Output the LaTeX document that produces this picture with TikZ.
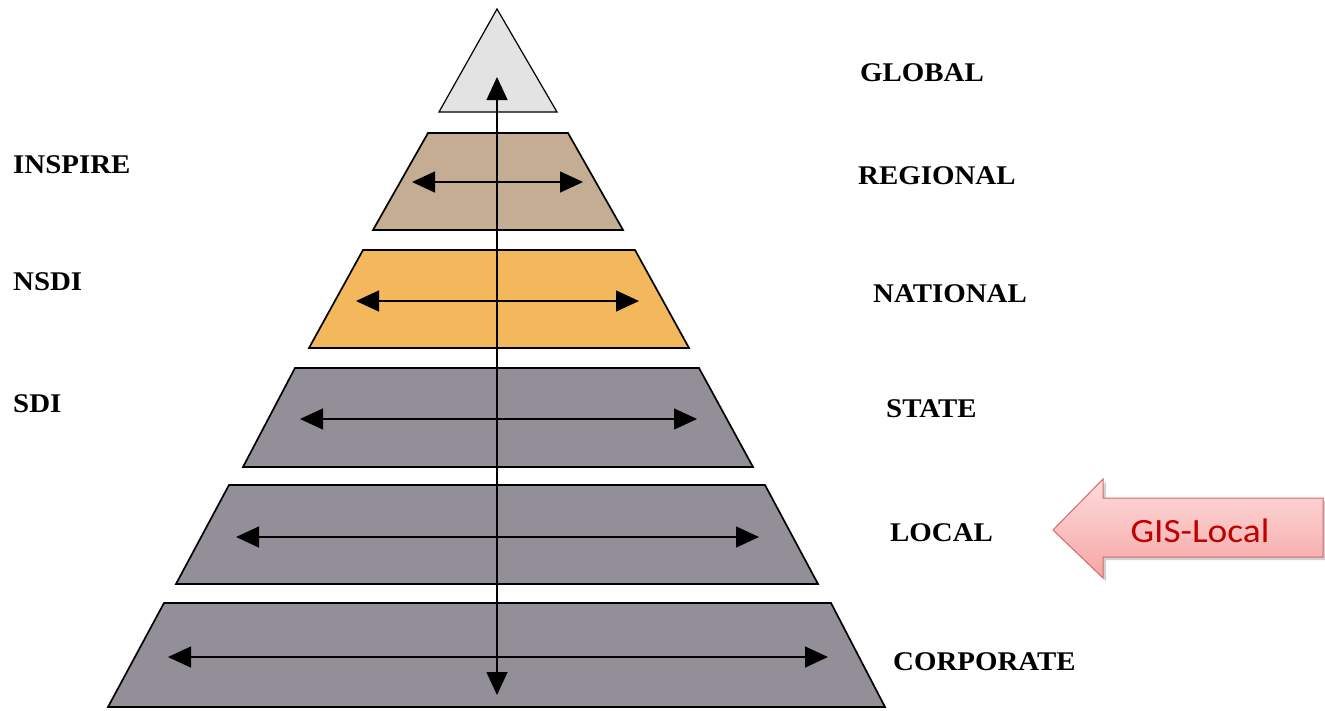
\documentclass[tikz,border=0pt]{standalone}
\usepackage{fontspec}
\setmainfont{Liberation Serif}
\newfontfamily\calib{Carlito}
\usetikzlibrary{arrows.meta}
\definecolor{trigray}{HTML}{E3E3E3}
\definecolor{tanfill}{HTML}{C4AD93}
\definecolor{orngfill}{HTML}{F2B85B}
\definecolor{slate}{HTML}{938F99}
\definecolor{pinktop}{HTML}{FDDCDB}
\definecolor{pinkbot}{HTML}{F5A6A5}
\definecolor{redborder}{HTML}{D26A68}
\definecolor{redtext}{HTML}{C00000}
\begin{document}
\begin{tikzpicture}[x=1pt,y=-1pt,
  layer/.style={draw=black, line width=1.7pt, line join=miter},
  harr/.style={{Triangle[length=23pt,width=21pt]}-{Triangle[length=23pt,width=21pt]}, line width=1.3pt},
  lbl/.style={font=\bfseries\fontsize{27}{27}\selectfont, anchor=west, inner sep=0pt, xscale=1.07}]
\useasboundingbox (0,0) rectangle (1325,710);
% layers
\fill[white] (0,0) rectangle (1325,710);
\draw[layer, fill=trigray, line width=1.2pt] (497,9) -- (557,112) -- (439,112) -- cycle;
\draw[layer, fill=tanfill] (428,133) -- (568,133) -- (623,230) -- (373,230) -- cycle;
\draw[layer, fill=orngfill] (363,250) -- (635,250) -- (689,348) -- (309,348) -- cycle;
\draw[layer, fill=slate] (295,368) -- (699,368) -- (753,467) -- (243,467) -- cycle;
\draw[layer, fill=slate] (229,485) -- (765,485) -- (818,584) -- (176,584) -- cycle;
\draw[layer, fill=slate] (164,603) -- (831,603) -- (885,707) -- (108,707) -- cycle;
% arrow end points
\coordinate (regL) at (412,182); \coordinate (regR) at (583,182);
\coordinate (natL) at (356,301); \coordinate (natR) at (639,301);
\coordinate (staL) at (300,419); \coordinate (staR) at (697,419);
\coordinate (locL) at (236,537); \coordinate (locR) at (759,537);
\coordinate (corL) at (168,657); \coordinate (corR) at (828,657);
\coordinate (vTop) at (497,77); \coordinate (vBot) at (497,695);
\draw[harr] (regL) -- (regR);
\draw[harr] (natL) -- (natR);
\draw[harr] (staL) -- (staR);
\draw[harr] (locL) -- (locR);
\draw[harr] (corL) -- (corR);
\draw[harr] (vTop) -- (vBot);
% labels
\node[lbl] (global) at (860,73) {GLOBAL};
\node[lbl] (regional) at (858,176) {REGIONAL};
\node[lbl] (national) at (873,294) {NATIONAL};
\node[lbl] (state) at (886,409) {STATE};
\node[lbl] (local) at (890,533) {LOCAL};
\node[lbl] (corporate) at (893,662) {CORPORATE};
\node[lbl] (inspire) at (13,165) {INSPIRE};
\node[lbl] (nsdi) at (13,282) {NSDI};
\node[lbl] (sdi) at (13,404) {SDI};
% GIS-Local arrow
\fill[black!18] (1056,533) -- (1106,482) -- (1106,501) -- (1325,501) -- (1325,560) -- (1106,560) -- (1106,581) -- cycle;
\draw[draw=redborder, line width=1pt, top color=pinktop, bottom color=pinkbot]
  (1053,530) -- (1103,479) -- (1103,498) -- (1323,498) -- (1323,557) -- (1103,557) -- (1103,578) -- cycle;
\node[font=\calib\fontsize{34}{34}\selectfont, text=redtext, inner sep=0pt, xscale=1.1] (gis) at (1200,531) {GIS-Local};
\end{tikzpicture}
\end{document}
